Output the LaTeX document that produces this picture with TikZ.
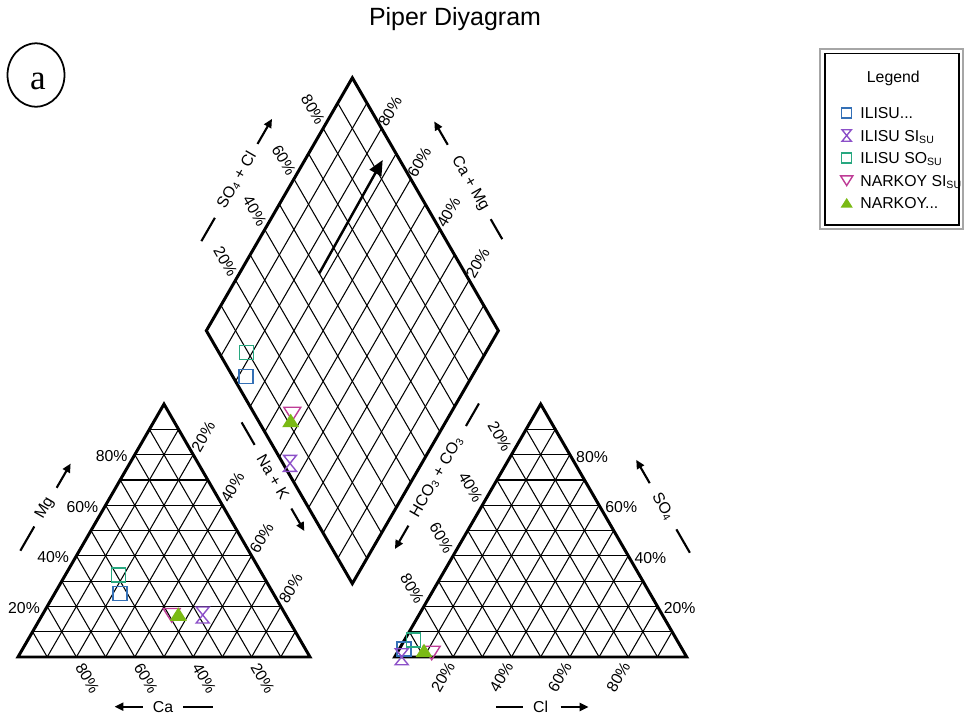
\documentclass[tikz,border=0pt]{standalone}
\usepackage{fontspec}
\setmainfont{Liberation Sans}
\newfontfamily\serifa{Liberation Serif}
\usepackage{xcolor}
\usepackage{tikz}
\usetikzlibrary{calc,arrows.meta}

\definecolor{ilisublue}{RGB}{52,112,182}
\definecolor{ilisupurple}{RGB}{140,80,200}
\definecolor{ilisuteal}{RGB}{40,168,128}
\definecolor{narkoypink}{RGB}{190,60,150}
\definecolor{narkoygreen}{RGB}{122,186,20}

\tikzset{
  sqmark/.pic={\draw (-0.7,-0.7) rectangle (0.7,0.7);},
  hgmark/.pic={\draw (-0.65,0.8) -- (0.65,0.8) -- (-0.65,-0.8) -- (0.65,-0.8) -- cycle;},
  dnmark/.pic={\draw (-0.85,0.65) -- (0.85,0.65) -- (0,-0.7) -- cycle;},
  upmark/.pic={\fill (-0.85,-0.65) -- (0.85,-0.65) -- (0,0.7) -- cycle;}
}

\begin{document}
\begin{tikzpicture}[scale=0.2,
  grid/.style={black, line width=0.6pt},
  frame/.style={black, line width=1.7pt},
  pct/.style={font=\fontsize{9}{10}\selectfont},
  axarrow/.style={black, line width=1.2pt, -{Triangle[length=5pt,width=4.5pt]}},
  axdash/.style={black, line width=1.2pt},
  mk/.style={line width=0.8pt, transform shape}]
\tikzstyle{every node}+=[inner sep=0pt]
\useasboundingbox (0,0) rectangle (96.9,-72.2);
% corners
\coordinate (cL) at (1.8,-65.7);
\coordinate (cR) at (31.0,-65.7);
\coordinate (cT) at (16.4,-40.41);
\coordinate (aL) at (39.47,-65.7);
\coordinate (aR) at (68.67,-65.7);
\coordinate (aT) at (54.07,-40.41);
\coordinate (dB) at (35.235,-58.36);
\coordinate (dL) at (20.635,-33.07);
\coordinate (dR) at (49.835,-33.07);
\coordinate (dT) at (35.235,-7.78);
% grids
\foreach \i in {1,...,9} {
  \draw [grid] ($(cL)!\i/10!(cT)$) -- ($(cR)!\i/10!(cT)$);
  \draw [grid] ($(cL)!\i/10!(cR)$) -- ($(cT)!\i/10!(cR)$);
  \draw [grid] ($(cL)!\i/10!(cR)$) -- ($(cL)!\i/10!(cT)$);
  \draw [grid] ($(aL)!\i/10!(aT)$) -- ($(aR)!\i/10!(aT)$);
  \draw [grid] ($(aL)!\i/10!(aR)$) -- ($(aT)!\i/10!(aR)$);
  \draw [grid] ($(aL)!\i/10!(aR)$) -- ($(aL)!\i/10!(aT)$);
  \draw [grid] ($(dB)!\i/10!(dR)$) -- ($(dL)!\i/10!(dT)$);
  \draw [grid] ($(dB)!\i/10!(dL)$) -- ($(dR)!\i/10!(dT)$);
}
\draw [frame] (cL) -- (cR) -- (cT) -- cycle;
\draw [frame] (aL) -- (aR) -- (aT) -- cycle;
\draw [frame] (dB) -- (dR) -- (dT) -- (dL) -- cycle;
% percent labels
\foreach \i/\p/\q in {2/20/80,4/40/60,6/60/40,8/80/20} {
  \draw ($(cL)!\i/10!(cT)+(-0.7,-0.15)$) node [pct, anchor=east] (mg\p) {\p\%};
  \draw ($(cL)!\i/10!(cR)+(0.3,-0.7)$) node [pct, anchor=west, rotate=-60] (ca\q) {\q\%};
  \draw ($(cT)!\i/10!(cR)+(0.2,0.4)$) node [pct, anchor=west, rotate=60] (nak\p) {\p\%};
  \draw ($(aT)!\i/10!(aL)+(-0.36,0.4)$) node [pct, anchor=east, rotate=-60] (hco\p) {\p\%};
  \draw ($(aR)!\i/10!(aT)+(0.6,-0.2)$) node [pct, anchor=west] (so\p) {\p\%};
  \draw ($(aL)!\i/10!(aR)+(-0.2,-0.6)$) node [pct, anchor=east, rotate=60] (cl\p) {\p\%};
  \draw ($(dL)!\i/10!(dT)+(-0.2,0.47)$) node [pct, anchor=east, rotate=-60] (socl\p) {\p\%};
  \draw ($(dR)!\i/10!(dT)+(0.05,0.3)$) node [pct, anchor=west, rotate=60] (camg\p) {\p\%};
}
% axis titles
\draw (4.5,-50.8) node [pct, rotate=60] (mg) {Mg};
\draw [axarrow] ($(mg.east)+(60:1.2)$) -- ++(60:2.8);
\draw [axdash] ($(mg.west)+(240:1.0)$) -- ++(240:2.8);
\draw (16.3,-70.67) node [pct] (ca) {Ca};
\draw [axarrow] ($(ca.west)+(180:1.0)$) -- ++(180:2.8);
\draw [axdash] ($(ca.east)+(0:1.0)$) -- ++(0:3.0);
\draw (27.3,-47.67) node [pct, rotate=-60] (nak) {Na + K};
\draw [axdash] ($(nak.west)+(120:1.2)$) -- ++(120:2.6);
\draw [axarrow] ($(nak.east)+(-60:1.2)$) -- ++(-60:2.6);
\draw (43.67,-47.67) node [pct, rotate=60] (hco) {HCO\textsubscript{3} + CO\textsubscript{3}};
\draw [axdash] ($(hco.east)+(60:1.3)$) -- ++(60:2.6);
\draw [axarrow] ($(hco.west)+(240:1.1)$) -- ++(240:2.7);
\draw (66.33,-50.67) node [pct, rotate=-60] (so) {SO\textsubscript{4}};
\draw [axarrow] ($(so.west)+(120:1.2)$) -- ++(120:2.7);
\draw [axdash] ($(so.east)+(-60:1.1)$) -- ++(-60:2.7);
\draw (54.07,-70.7) node [pct] (cl) {Cl};
\draw [axdash] ($(cl.west)+(180:1.0)$) -- ++(180:2.7);
\draw [axarrow] ($(cl.east)+(0:1.2)$) -- ++(0:2.8);
\draw (23.67,-18.0) node [pct, rotate=60] (socl) {SO\textsubscript{4} + Cl};
\draw [axarrow] ($(socl.east)+(60:1.0)$) -- ++(60:2.9);
\draw [axdash] ($(socl.west)+(240:1.2)$) -- ++(240:2.7);
\draw (47.0,-18.33) node [pct, rotate=-60] (camg) {Ca + Mg};
\draw [axarrow] ($(camg.west)+(120:1.4)$) -- ++(120:2.7);
\draw [axdash] ($(camg.east)+(-60:1.1)$) -- ++(-60:2.3);
% arrow in the diamond
\coordinate (flowA) at (31.93,-27.33);
\coordinate (flowB) at (38.27,-16.0);
\draw [black, line width=1.4pt, -{Triangle[length=8.5pt,width=7.5pt]}] (flowA) -- (flowB);
% samples
\pic [mk, ilisublue] at (24.6,-37.67) {sqmark};
\pic [mk, ilisupurple] at (29.0,-46.33) {hgmark};
\pic [mk, ilisuteal] at (24.67,-35.23) {sqmark};
\pic [mk, narkoypink] at (29.23,-41.37) {dnmark};
\pic [mk, narkoygreen] at (29.07,-42.07) {upmark};
\pic [mk, ilisublue] at (12.0,-59.33) {sqmark};
\pic [mk, ilisupurple] at (20.27,-61.5) {hgmark};
\pic [mk, ilisuteal] at (11.83,-57.5) {sqmark};
\pic [mk, narkoypink] at (17.17,-61.5) {dnmark};
\pic [mk, narkoygreen] at (17.83,-61.43) {upmark};
\pic [mk, ilisublue] at (40.4,-64.9) {sqmark};
\pic [mk, ilisupurple] at (40.17,-65.67) {hgmark};
\pic [mk, ilisuteal] at (41.33,-64.0) {sqmark};
\pic [mk, narkoypink] at (43.17,-65.27) {dnmark};
\pic [mk, narkoygreen] at (42.4,-65.07) {upmark};
% title and panel letter
\draw (45.5,-2.5) node [anchor=base, font=\fontsize{14.2}{17}\selectfont] (title) {Piper Diyagram};
\draw [black, line width=1pt] (3.6,-7.5) ellipse (2.85 and 3.17);
\draw (3.8,-8.17) node [font=\serifa\fontsize{20}{24}\selectfont] (panel) {a};
% legend
\draw [gray!70, line width=1.2pt] (82.0,-4.9) rectangle (96.33,-22.9);
\draw [black, line width=0.6pt] (82.5,-5.33) rectangle (95.9,-22.5);
\draw (89.33,-8.24) node [pct, anchor=base] (legtitle) {Legend};
\pic [mk, ilisublue, scale=0.72] at (84.67,-11.3) {sqmark};
\pic [mk, ilisupurple, scale=0.72] at (84.67,-13.55) {hgmark};
\pic [mk, ilisuteal, scale=0.72] at (84.67,-15.8) {sqmark};
\pic [mk, narkoypink, scale=0.72] at (84.67,-18.05) {dnmark};
\pic [mk, narkoygreen, scale=0.72] at (84.67,-20.3) {upmark};
\draw (86.0,-11.87) node [pct, anchor=base west] (leg1) {ILISU...};
\draw (86.0,-14.12) node [pct, anchor=base west] (leg2) {ILISU SI\textsubscript{SU}};
\draw (86.0,-16.37) node [pct, anchor=base west] (leg3) {ILISU SO\textsubscript{SU}};
\draw (86.0,-18.62) node [pct, anchor=base west] (leg4) {NARKOY SI\textsubscript{SU}};
\draw (86.0,-20.87) node [pct, anchor=base west] (leg5) {NARKOY...};
\end{tikzpicture}
\end{document}
